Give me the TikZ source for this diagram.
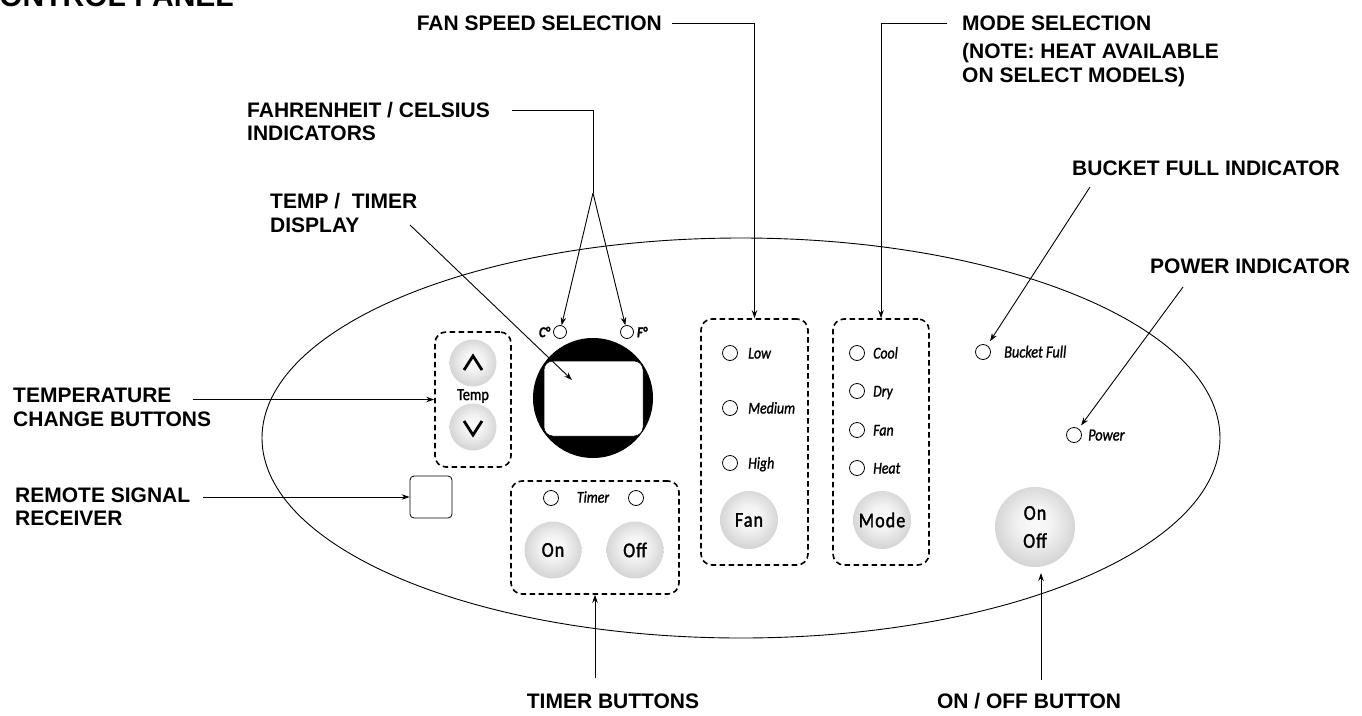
\documentclass[tikz,border=0pt]{standalone}
\usepackage{fontspec}
\setmainfont{Liberation Sans}
\newfontfamily\panelfam[FakeStretch=0.84, FakeBold=1.3]{Carlito}
\newfontfamily\btnfam[FakeStretch=0.86, FakeBold=1.6, LetterSpace=5]{Carlito}
\usetikzlibrary{arrows.meta}
\newcommand\lblfont{\fontsize{21}{23.5}\selectfont\bfseries}
\newcommand\ledfont{\panelfam\itshape\fontsize{16.5}{18}\selectfont}
\newcommand\btnfont{\btnfam\fontsize{21}{22}\selectfont}
\pgfdeclareradialshading{btnshade}{\pgfpoint{0bp}{3bp}}{color(0bp)=(gray!4); color(10bp)=(gray!9); color(25bp)=(gray!32); color(50bp)=(gray!32)}
\begin{document}
\begin{tikzpicture}[x=1pt,y=-1pt,
  lbl/.style={font=\lblfont, align=left, inner sep=0pt, anchor=base west},
  conn/.style={line width=0.9pt},
  arr/.style={conn,-{Stealth[length=8pt,width=5.5pt]}},
  dbox/.style={draw, line width=1.6pt, dash pattern=on 5.5pt off 3.5pt, rounded corners=11pt, inner sep=0pt},
  led/.style={circle, draw, line width=0.8pt, minimum size=15pt, inner sep=0pt},
  ledtxt/.style={font=\ledfont, anchor=base west, inner sep=0pt},
  btn/.style={circle, shade, shading=btnshade, inner sep=0pt, font=\btnfont},
  chev/.style={line width=2.8pt, line join=miter, line cap=butt}
]
\useasboundingbox (0,0) rectangle (1362,715);

% title (clipped at the top)
\node[lbl, anchor=base east] (title) at (234,6) {\fontsize{30}{30}\selectfont CONTROL PANEL};

% panel outline
\draw[conn] (741,438) ellipse [x radius=479pt, y radius=200pt];

% labels (base anchor of a two-line label = baseline of its last line)
\node[lbl, anchor=base east] (fanlbl) at (662,30.5) {FAN SPEED SELECTION};
\node[lbl] (modelbl) at (962,30.5) {MODE SELECTION};
\node[lbl] (notelbl) at (962,82) {(NOTE: HEAT AVAILABLE\\ON SELECT MODELS)};
\node[lbl] (fclbl) at (247,140.5) {FAHRENHEIT / CELSIUS\\INDICATORS};
\node[lbl] (displbl) at (270,232) {TEMP /\ \ TIMER\\DISPLAY};
\node[lbl] (tclbl) at (13,426) {TEMPERATURE\\CHANGE BUTTONS};
\node[lbl] (rmlbl) at (15,525.5) {REMOTE SIGNAL\\RECEIVER};
\node[lbl, anchor=base] (tblbl) at (613,708) {TIMER BUTTONS};
\node[lbl, anchor=base] (oolbl) at (1029,708) {ON / OFF BUTTON};
\node[lbl] (bflbl) at (1072,175) {BUCKET FULL INDICATOR};
\node[lbl] (pwlbl) at (1150,273) {POWER INDICATOR};

% temperature buttons
\node[dbox, minimum width=76pt, minimum height=135pt] (tempbox) at (473,399.5) {};
\node[btn, minimum size=47pt] (upbtn) at (473,363) {};
\node[btn, minimum size=47pt] (dnbtn) at (473,427) {};
\node[font=\panelfam\fontsize{17}{18}\selectfont, inner sep=0pt] (templbl) at (473,396) {Temp};
\draw[chev] ([shift={(-9,7)}]upbtn.center) -- ([shift={(0,-7)}]upbtn.center) -- ([shift={(9,7)}]upbtn.center);
\draw[chev] ([shift={(-9,-6)}]dnbtn.center) -- ([shift={(0,8)}]dnbtn.center) -- ([shift={(9,-6)}]dnbtn.center);

% display
\node[circle, fill=black, minimum size=120pt, inner sep=0pt] (disp) at (593,398) {};
\node[fill=white, draw=black, line width=0.5pt, rounded corners=9pt, minimum width=99pt, minimum height=75pt, inner sep=0pt] (screen) at (593.5,398.5) {};
\node[led, minimum size=13pt] (cled) at (560,332) {};
\node[led, minimum size=13pt] (fled) at (627,332) {};
\node[font=\panelfam\itshape\bfseries\fontsize{15}{16}\selectfont, anchor=east, inner sep=0pt] (ctxt) at ([xshift=-3pt]cled.west) {C°};
\node[font=\panelfam\itshape\bfseries\fontsize{15}{16}\selectfont, anchor=west, inner sep=0pt] (ftxt) at ([xshift=3pt]fled.east) {F°};

% remote receiver
\node[draw, line width=0.8pt, rounded corners=4pt, minimum size=42pt, inner sep=0pt] (remote) at (431,497) {};

% timer
\node[dbox, minimum width=168pt, minimum height=113pt] (timerbox) at (595,537.5) {};
\node[led] (tled1) at (551,498) {};
\node[led] (tled2) at (636,498) {};
\node[font=\ledfont, inner sep=0pt] (timertxt) at (593,497) {Timer};
\node[btn, minimum size=57pt] (tonbtn) at (553,550) {On};
\node[btn, minimum size=57pt] (toffbtn) at (635,550) {Off};

% fan speed
\node[dbox, minimum width=107pt, minimum height=246pt] (fanbox) at (754.5,442) {};
\node[led] (lowled) at (730,353) {};
\node[led] (medled) at (730,408) {};
\node[led] (highled) at (730,463) {};
\node[ledtxt] (lowtxt) at (748,358.5) {Low};
\node[ledtxt] (medtxt) at (748,413.5) {Medium};
\node[ledtxt] (hightxt) at (748,468.5) {High};
\node[btn, minimum size=58pt] (fanbtn) at (749,520) {Fan};

% mode
\node[dbox, minimum width=96pt, minimum height=246pt] (modebox) at (881,442) {};
\node[led] (coolled) at (857,353) {};
\node[led] (dryled) at (857,391) {};
\node[led] (fanled) at (857,430) {};
\node[led] (heatled) at (857,468) {};
\node[ledtxt] (cooltxt) at (873,358.5) {Cool};
\node[ledtxt] (drytxt) at (873,396.5) {Dry};
\node[ledtxt] (fantxt) at (873,435.5) {Fan};
\node[ledtxt] (heattxt) at (873,473.5) {Heat};
\node[btn, minimum size=58pt] (modebtn) at (882,520) {Mode};

% indicators
\node[led] (bfled) at (983,352) {};
\node[ledtxt, font=\panelfam\itshape\fontsize{17}{18}\selectfont] (bftxt) at (1004,357.5) {Bucket Full};
\node[led] (pwled) at (1074,435) {};
\node[ledtxt, font=\panelfam\itshape\fontsize{17}{18}\selectfont] (pwtxt) at (1088,440.5) {Power};

% on/off
\node[btn, minimum size=80pt, align=center, font=\btnfam\fontsize{21}{28}\selectfont] (onoff) at (1035,527) {On\\Off};

% connectors
\draw[arr] ([xshift=10pt]fanlbl.east) -| (fanbox.north);
\draw[arr] ([xshift=-15pt]modelbl.west) -| (modebox.north);

\coordinate (fcstart) at (512,110);
\coordinate (fcsplit) at (593,193);
\draw[conn] (fcstart) -| (fcsplit);
\draw[arr] (fcsplit) -- (cled);
\draw[arr] (fcsplit) -- (fled);

\coordinate (dpstart) at (410,225);
\coordinate (dptip) at (572,380);
\draw[arr] (dpstart) -- (dptip);

\coordinate (tcstart) at (193,399.5);
\draw[arr] (tcstart) -- (tempbox.west);

\coordinate (rmstart) at (203,497);
\draw[arr] (rmstart) -- (remote.west);

\coordinate (tbstart) at (595,678);
\draw[arr] (tbstart) -- (timerbox.south);

\coordinate (oostart) at (1041,680);
\coordinate (ootip) at (1041,573);
\draw[arr] (oostart) -- (ootip);

\coordinate (bfstart) at (1090,187);
\draw[arr, shorten >=5pt] (bfstart) -- (bfled);

\coordinate (pwstart) at (1183,287);
\draw[arr, shorten >=4pt] (pwstart) -- (pwled);
\end{tikzpicture}
\end{document}
